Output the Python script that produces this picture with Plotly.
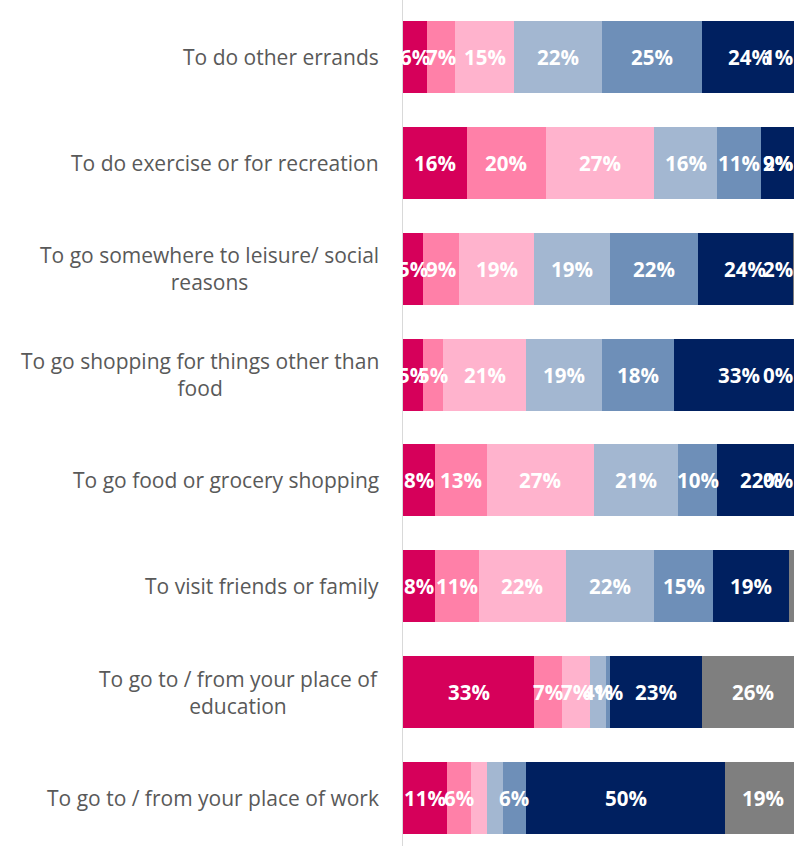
import plotly.graph_objects as go

# Trip purposes, top to bottom
categories = [
    "To do other errands",
    "To do exercise or for recreation",
    "To go somewhere to leisure/ social<br>reasons",
    "To go shopping for things other than<br>food",
    "To go food or grocery shopping",
    "To visit friends or family",
    "To go to / from your place of<br>education",
    "To go to / from your place of work",
]

# Share of respondents (%) per response band, one list per band
band_1 = [6, 16, 5, 5, 8, 8, 33, 11]
band_2 = [7, 20, 9, 5, 13, 11, 7, 6]
band_3 = [15, 27, 19, 21, 27, 22, 7, 4]
band_4 = [22, 16, 19, 19, 21, 22, 4, 4]
band_5 = [25, 11, 22, 18, 10, 15, 1, 6]
band_6 = [24, 9, 24, 33, 22, 19, 23, 50]
band_7 = [1, 2, 2, 0, 0, 2, 26, 19]

band_names = ["Band 1", "Band 2", "Band 3", "Band 4", "Band 5", "Band 6", "Band 7"]
band_colors = ["#D6005A", "#FF80A8", "#FFB3CD", "#A3B7D1", "#6E8FB8", "#002060", "#7F7F7F"]

# (category index, band index) pairs whose value label is not printed
unlabelled = {(5, 6), (7, 2), (7, 3)}

bands = [band_1, band_2, band_3, band_4, band_5, band_6, band_7]

FIG_W, FIG_H = 794, 846
LEFT = 403
X_MAX = 98.24
LABEL_SIZE = 20.5
CAT_SIZE = 21
FONT = "Open Sans"

fig = go.Figure()
for name, color, vals in zip(band_names, band_colors, bands):
    fig.add_trace(go.Bar(
        name=name, y=categories, x=vals, orientation="h",
        marker=dict(color=color, line=dict(width=0)),
        width=0.68, hoverinfo="skip",
    ))

# value labels, centred on each segment and kept inside the plot's right edge
px_per_unit = (FIG_W - LEFT) / X_MAX
annotations = []
for ci, cat in enumerate(categories):
    start = 0
    for bi, vals in enumerate(bands):
        v = vals[ci]
        centre = start + v / 2
        start += v
        if (ci, bi) in unlabelled:
            continue
        txt = f"{v}%"
        ndig = len(txt) - 1
        half_w = LABEL_SIZE * (0.6 * ndig + 0.9) / 2 / px_per_unit
        x = min(centre, X_MAX - half_w - 1 / px_per_unit)
        annotations.append(dict(
            x=x, y=cat, xref="x", yref="y", text=f"<b>{txt}</b>",
            showarrow=False, xanchor="center", yanchor="middle",
            font=dict(family=FONT, size=LABEL_SIZE, color="white"),
        ))

# category labels, lines centred within each label block
for cat in categories:
    annotations.append(dict(
        x=0, y=cat, xref="paper", yref="y", text=cat, showarrow=False,
        xanchor="right", yanchor="middle", align="center", xshift=-22,
        font=dict(family=FONT, size=CAT_SIZE, color="#595959"),
    ))

fig.update_layout(
    width=FIG_W, height=FIG_H,
    barmode="stack", showlegend=False,
    margin=dict(l=LEFT, r=0, t=0, b=0),
    paper_bgcolor="white", plot_bgcolor="white",
    xaxis=dict(range=[0, X_MAX], showgrid=False, zeroline=False,
               showticklabels=False, showline=False),
    yaxis=dict(type="category", categoryorder="array", categoryarray=categories,
               range=[7.454, -0.538], showgrid=False, zeroline=False,
               showticklabels=False, ticks="", showline=True,
               linecolor="#D9D9D9", linewidth=1),
    annotations=annotations,
)

fig.write_html("out.html")
